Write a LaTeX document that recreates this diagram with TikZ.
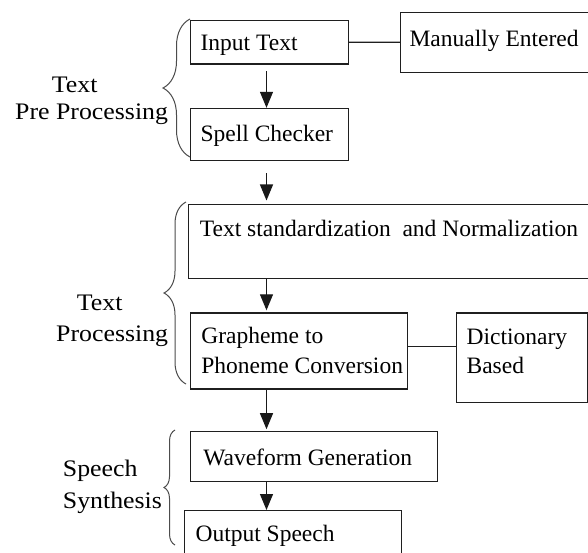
\documentclass[tikz,border=0pt]{standalone}
\usepackage{fontspec}
\setmainfont{Liberation Serif}
\newfontfamily\labfont{Liberation Serif}[FakeStretch=1.09]
\usetikzlibrary{arrows.meta,decorations.pathreplacing,calc}
\newcommand\bx[5]{\parbox[c][#2][t]{#1}{\raggedright\leftskip=#4\relax\hyphenpenalty=10000\relax\vspace*{#3}#5\par}}
\newcommand\lb[2]{\parbox[t]{#1}{\raggedright\hyphenpenalty=10000\relax #2}}
\tikzset{
  box/.style={draw=black!88, line width=1.2pt, inner sep=0pt, anchor=north west,
    font=\fontsize{23.5pt}{29.4pt}\selectfont, text=black},
  lab/.style={inner sep=0pt, anchor=base west, text=black,
    font=\labfont\fontsize{23.7pt}{29.4pt}\selectfont},
  arr/.style={line width=1.2pt, draw=black!90, -{Triangle[length=16pt,width=13pt]}},
  link/.style={line width=1.2pt, draw=black!88},
  brc/.style={decorate, decoration={brace,amplitude=#1}, line width=1pt, draw=black!70}
}
\begin{document}
\begin{tikzpicture}[x=1pt,y=-1pt]
\useasboundingbox (0,0) rectangle (588,553);
\fill[white] (0,0) rectangle (588,553);
\clip (0,0) rectangle (588,553);

% boxes
\node[box] (input) at (190,20) {\bx{158pt}{43.5pt}{15pt}{10pt}{Input~Text}};
\node[box] (manual) at (400,11.7) {\bx{210pt}{60pt}{17.6pt}{9pt}{Manually~Entered}};
\node[box] (spell) at (190,108.3) {\bx{158pt}{51.7pt}{16pt}{10pt}{Spell~Checker}};
\node[box] (std) at (188,204) {\bx{420pt}{74pt}{16pt}{11.3pt}{Text~standardization~~and~Normalization}};
\node[box] (graph) at (190,312.3) {\bx{216.7pt}{76pt}{14.4pt}{10.7pt}{Grapheme~to\\Phoneme~Conversion}};
\node[box] (dict) at (456,312.3) {\bx{130.7pt}{89.4pt}{15.7pt}{10pt}{Dictionary\\Based}};
\node[box] (wave) at (190,430.7) {\bx{246.7pt}{50pt}{17.6pt}{12.7pt}{Waveform~Generation}};
\node[box] (output) at (184,510) {\bx{216.7pt}{60pt}{15pt}{11pt}{Output~Speech}};

% group labels
\node[lab] (l1) at (15,92.7) {\lb{160pt}{\hspace*{36.7pt}Text\\[-2.1pt]Pre~Processing}};
\node[lab] (l2) at (56,310.7) {\lb{118pt}{\hspace*{20.7pt}Text\\[1.6pt]Processing}};
\node[lab] (l3) at (62.7,476.7) {\lb{108pt}{Speech\\[2.2pt]Synthesis}};

% braces
\draw[brc=27pt] (190,157) -- (190,19);
\draw[brc=22pt] (186,384) -- (186,202);
\draw[brc=11pt] (175,545) -- (175,430);

% side links
\draw[link] (input.east) -- (manual.west);
\coordinate (gd) at ($(graph.north east)+(0,34)$);
\draw[link] (gd) -- (gd -| dict.west);

% arrows
\coordinate (ax) at (266.5,0);
\draw[arr, shorten <=6.5pt, shorten >=0.5pt] (input.south -| ax) -- (spell.north -| ax);
\draw[arr, shorten <=12pt, shorten >=3.5pt] (spell.south -| ax) -- (std.north -| ax);
\draw[arr, shorten >=2pt] (std.south -| ax) -- (graph.north -| ax);
\draw[arr, shorten >=1.5pt] (graph.south -| ax) -- (wave.north -| ax);
\draw[arr] (wave.south -| ax) -- (output.north -| ax);
\end{tikzpicture}
\end{document}
